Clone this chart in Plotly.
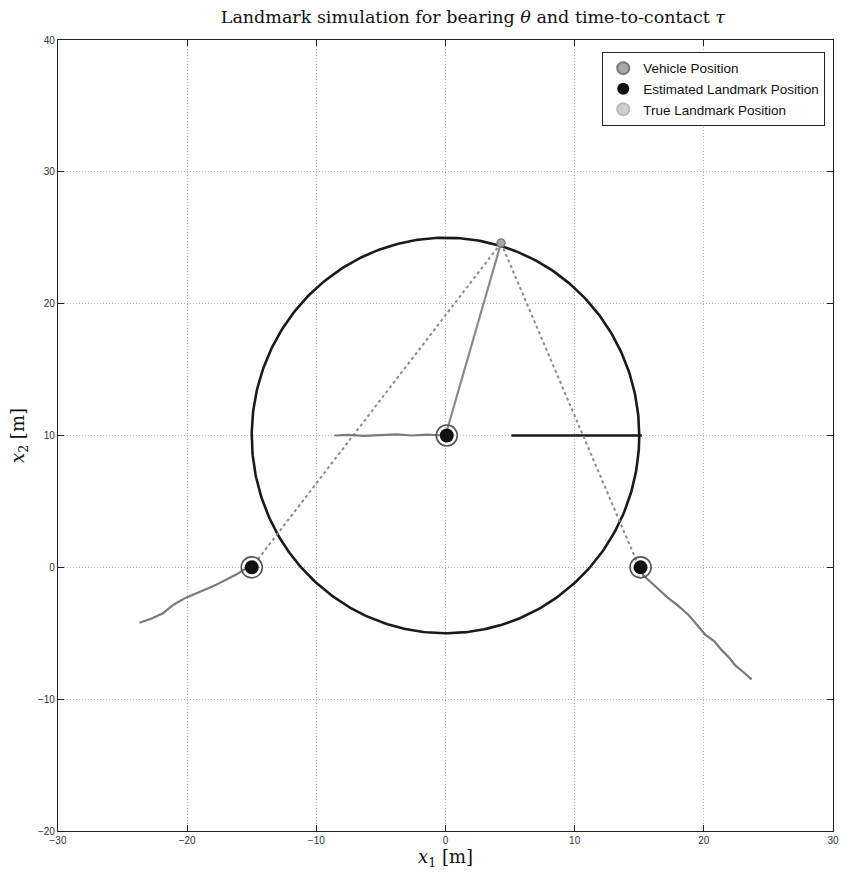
import numpy as np
import plotly.graph_objects as go

# Vehicle trajectory circle (center, radius) and current vehicle position
circle_center = [0.0, 10.0]
circle_radius = 15.0
vehicle_x = [4.3]
vehicle_y = [24.6]

# Landmarks: true and estimated positions
true_lm_x = [-15.0, 0.0, 15.0]
true_lm_y = [0.0, 10.0, 0.0]
est_lm_x = [-15.0, 0.1, 15.1]
est_lm_y = [0.0, 10.0, 0.0]

# Landmark estimate histories
left_path_x = [-23.7, -22.8, -21.9, -21.0, -20.1, -19.3, -18.5, -17.8, -17.0, -16.2, -15.4, -15.0]
left_path_y = [-4.2, -3.9, -3.5, -2.8, -2.3, -2.0, -1.65, -1.35, -0.97, -0.55, -0.06, 0.0]
right_path_x = [15.1, 15.3, 16.2, 17.2, 18.0, 18.8, 19.5, 20.1, 20.8, 21.4, 22.0, 22.4, 23.0, 23.7]
right_path_y = [0.0, -0.6, -1.4, -2.3, -2.9, -3.6, -4.4, -5.1, -5.6, -6.3, -6.9, -7.4, -7.9, -8.5]
center_path_x = [-8.6, -7.5, -6.3, -5.0, -3.8, -2.6, -1.4, -0.5, 0.1]
center_path_y = [10.0, 10.05, 9.97, 10.04, 10.08, 10.0, 10.06, 10.02, 10.0]

# Radius segment drawn on the circle
radius_seg_x = [5.1, 15.2]
radius_seg_y = [10.0, 10.0]

fig = go.Figure()

t = np.linspace(0, 2 * np.pi, 400)
fig.add_trace(go.Scatter(
    x=circle_center[0] + circle_radius * np.cos(t),
    y=circle_center[1] + circle_radius * np.sin(t),
    mode="lines", line=dict(color="#1a1a1a", width=2.6),
    showlegend=False, hoverinfo="skip"))

fig.add_trace(go.Scatter(x=radius_seg_x, y=radius_seg_y, mode="lines",
                         line=dict(color="#1a1a1a", width=2.4),
                         showlegend=False, hoverinfo="skip"))

# Bearing lines from vehicle to each landmark
for i, (lx, ly) in enumerate(zip(true_lm_x, true_lm_y)):
    fig.add_trace(go.Scatter(
        x=[vehicle_x[0], lx], y=[vehicle_y[0], ly], mode="lines",
        line=dict(color="#8a8a8a", width=2.2 if i == 1 else 2,
                  dash="solid" if i == 1 else "dot"),
        showlegend=False, hoverinfo="skip"))

for px, py in [(left_path_x, left_path_y), (right_path_x, right_path_y),
               (center_path_x, center_path_y)]:
    fig.add_trace(go.Scatter(x=px, y=py, mode="lines",
                             line=dict(color="#7a7a7a", width=2.2),
                             showlegend=False, hoverinfo="skip"))

# Uncertainty rings around landmark estimates
fig.add_trace(go.Scatter(x=est_lm_x, y=est_lm_y, mode="markers",
                         marker=dict(symbol="circle-open", size=21, color="#555555",
                                     line=dict(color="#555555", width=1.6)),
                         showlegend=False, hoverinfo="skip"))

fig.add_trace(go.Scatter(x=vehicle_x, y=vehicle_y, mode="markers",
                         name="Vehicle Position",
                         marker=dict(symbol="circle", size=8, color="#a8a8a8",
                                     line=dict(color="#7a7a7a", width=1.5))))
fig.add_trace(go.Scatter(x=true_lm_x, y=true_lm_y, mode="markers",
                         name="True Landmark Position",
                         marker=dict(symbol="circle", size=9, color="#d0d0d0",
                                     line=dict(color="#b8b8b8", width=1))))
fig.add_trace(go.Scatter(x=est_lm_x, y=est_lm_y, mode="markers",
                         name="Estimated Landmark Position",
                         marker=dict(symbol="circle", size=14, color="#111111")))

# Legend order: vehicle, estimated, true
fig.data[-3].legendrank = 1
fig.data[-1].legendrank = 2
fig.data[-2].legendrank = 3

axis_common = dict(
    showgrid=True, gridcolor="#b8b8b8", griddash="1px,2px", gridwidth=1,
    zeroline=False, showline=True, linecolor="#222222", linewidth=1.2,
    mirror="ticks", ticks="inside", ticklen=6, tickcolor="#222222",
    dtick=10, tickfont=dict(family="Liberation Sans", size=10, color="#333333"),
)

fig.update_layout(
    width=846, height=877,
    margin=dict(l=58, r=7, t=40, b=46),
    paper_bgcolor="white", plot_bgcolor="white",
    title=dict(text="Landmark simulation for bearing <i>θ</i> and time-to-contact <i>τ</i>",
               xref="container", x=0.559, xanchor="center", y=0.988, yanchor="top",
               font=dict(family="DejaVu Serif", size=17.5, color="#111111")),
    xaxis=dict(range=[-30, 30], tick0=-30,
               title=dict(text="<i>x</i><sub>1</sub> [m]", standoff=4,
                          font=dict(family="DejaVu Serif", size=18, color="#111111")),
               **axis_common),
    yaxis=dict(range=[-20, 40], tick0=-20,
               title=dict(text="<i>x</i><sub>2</sub> [m]", standoff=8,
                          font=dict(family="DejaVu Serif", size=18, color="#111111")),
               **axis_common),
    legend=dict(x=0.99, y=0.985, xanchor="right", yanchor="top",
                bgcolor="white", bordercolor="#222222", borderwidth=1,
                font=dict(family="Liberation Sans", size=13.5, color="#111111"),
                tracegroupgap=0, itemsizing="constant", itemwidth=30),
    showlegend=True,
)

fig.write_html("out.html")
